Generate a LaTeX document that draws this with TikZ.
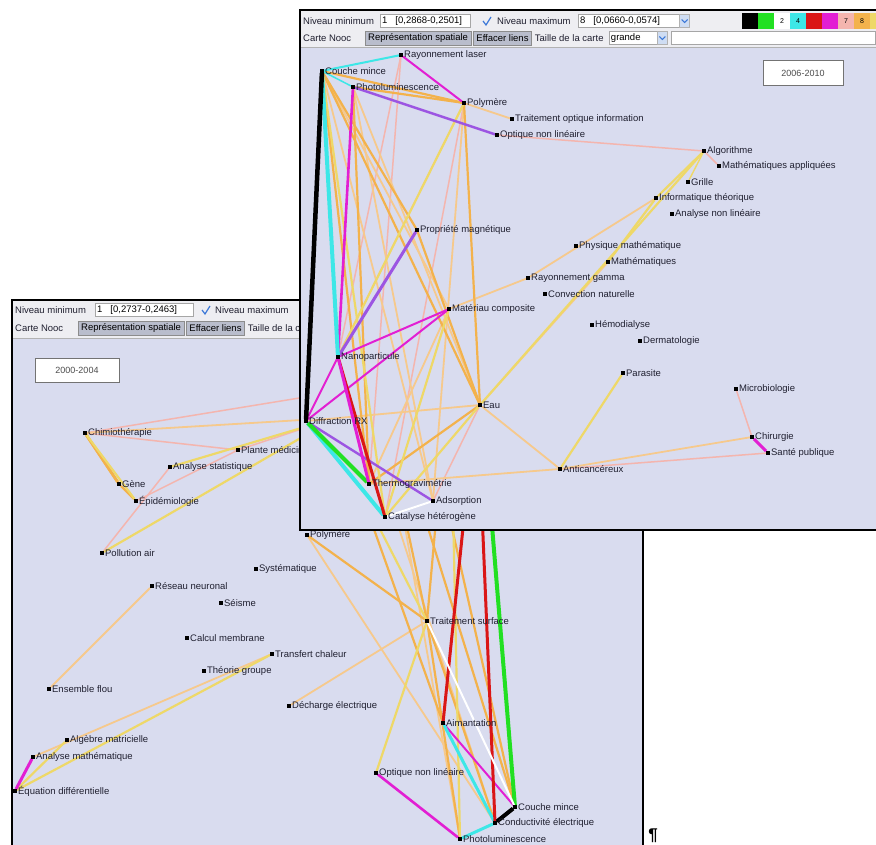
\documentclass[tikz,border=0pt]{standalone}
\usepackage{tikz}
\usepackage{fontspec}
\setmainfont{Liberation Sans}
\usetikzlibrary{positioning}
\definecolor{canvas}{HTML}{D9DCEF}
\definecolor{barbg}{HTML}{EEEEF2}
\definecolor{btnbg}{HTML}{B9BDCC}
\definecolor{dropbg}{HTML}{CFDDF3}
\definecolor{lpink}{HTML}{F4B5AE}
\definecolor{lorange}{HTML}{F6C98C}
\definecolor{dorange}{HTML}{F3B24C}
\definecolor{lyellow}{HTML}{EED868}
\definecolor{lmag}{HTML}{E21FD3}
\definecolor{lpurp}{HTML}{9C55E2}
\definecolor{lcyan}{HTML}{3DE7E7}
\definecolor{lgreen}{HTML}{22E022}
\definecolor{lred}{HTML}{DA1616}
\definecolor{chk}{HTML}{3C78D8}
\definecolor{lbltext}{HTML}{202030}
\newcommand\lblfont{\fontsize{9.5}{11}\selectfont}
\pgfdeclarelayer{lowwin}
\pgfdeclarelayer{lowedge}
\pgfdeclarelayer{lownode}
\pgfdeclarelayer{topwin}
\pgfdeclarelayer{topedge}
\pgfsetlayers{lowwin,lowedge,lownode,topwin,topedge,main}
\begin{document}
\begin{tikzpicture}[x=1pt,y=-1pt,
  pt/.style={fill=black,inner sep=0pt,minimum size=3.5pt},
  lbl/.style={font=\lblfont,text=lbltext,inner sep=1pt},
  tb/.style={anchor=west,font=\lblfont,text=lbltext,inner sep=0pt},
  fld/.style={anchor=west,draw=black!35,fill=white,minimum height=13pt,inner sep=2pt,font=\lblfont,align=left},
  btn/.style={anchor=west,draw=black!45,fill=btnbg,minimum height=14pt,inner xsep=3pt,inner ysep=0pt,font=\lblfont},
  drop/.style={anchor=west,draw=black!30,fill=dropbg,minimum width=10pt,minimum height=13pt,inner sep=0pt},
  sw/.style={minimum width=16pt,minimum height=16pt,inner sep=0pt,font=\fontsize{7}{7}\selectfont},
  yr/.style={draw=black!55,fill=white,font=\fontsize{9}{10}\selectfont,text=black!70},
  frm/.style={black,line width=1.6pt},
  ePk/.style={lpink,line width=1.5pt},
  eLo/.style={lorange,line width=1.8pt},
  eOr/.style={dorange,line width=2.2pt},
  eYe/.style={lyellow,line width=2.2pt},
  eMg/.style={lmag,line width=2pt},
  ePu/.style={lpurp,line width=2.4pt},
  eCy/.style={lcyan,line width=3pt},
  eGr/.style={lgreen,line width=4pt},
  eRd/.style={lred,line width=3pt},
  eBk/.style={black,line width=4pt},
  eWh/.style={white,line width=2pt}]
\useasboundingbox (0,0) rectangle (876,845);

\begin{pgfonlayer}{lowwin}
\fill[canvas] (13,338) rectangle (642,845);
\fill[barbg] (13,300) rectangle (300,338);
\draw[black!30] (13,338) -- (300,338);
\draw[frm] (12,845) -- (12,300) -- (300,300);
\draw[frm] (643,530) -- (643,845);
\node[tb] (lMin) at (15,310) {Niveau minimum};
\node[fld,text width=94pt] (lMinFld) at (95,310) {1\hspace{8pt}[0,2737-0,2463]};
\draw[chk,line width=1.2pt] (202,310) -- (205,314) -- (210,306);
\node[tb] (lMax) at (215,310) {Niveau maximum};
\node[tb] (lCarte) at (15,328) {Carte Nooc};
\node[btn] (lRep) at (78,328) {Représentation spatiale};
\node[btn,right=2pt of lRep] (lEff) {Effacer liens};
\node[tb,right=3pt of lEff] (lTaille) {Taille de la carte};
\node[yr,minimum width=84pt,minimum height=24pt] (lYear) at (77,370) {2000-2004};
\node[font=\bfseries\fontsize{17}{17}\selectfont,inner sep=0pt] (para) at (653,836) {\P};
\end{pgfonlayer}

\begin{pgfonlayer}{lownode}
\node[pt,label={[lbl]right:Chimiothérapie}] (bCt) at (85,433) {};
\node[pt,label={[lbl]right:Plante médicinale}] (bPM) at (238,450) {};
\node[pt,label={[lbl]right:Analyse statistique}] (bAS) at (170,467) {};
\node[pt,label={[lbl]right:Gène}] (bGe) at (119,484) {};
\node[pt,label={[lbl]right:Épidémiologie}] (bEp) at (136,501) {};
\node[pt,label={[lbl]right:Pollution air}] (bPA) at (102,553) {};
\node[pt,label={[lbl]right:Polymère}] (bPo) at (307,535) {};
\node[pt,label={[lbl]right:Systématique}] (bSy) at (256,569) {};
\node[pt,label={[lbl]right:Réseau neuronal}] (bRN) at (152,586) {};
\node[pt,label={[lbl]right:Séisme}] (bSe) at (221,603) {};
\node[pt,label={[lbl]right:Calcul membrane}] (bCa) at (187,638) {};
\node[pt,label={[lbl]right:Transfert chaleur}] (bTC) at (272,654) {};
\node[pt,label={[lbl]right:Théorie groupe}] (bTG) at (204,671) {};
\node[pt,label={[lbl]right:Ensemble flou}] (bEF) at (49,689) {};
\node[pt,label={[lbl]right:Décharge électrique}] (bDE) at (289,706) {};
\node[pt,label={[lbl]right:Traitement surface}] (bTS) at (427,621) {};
\node[pt,label={[lbl]right:Aimantation}] (bAi) at (443,723) {};
\node[pt,label={[lbl]right:Algèbre matricielle}] (bAlM) at (67,740) {};
\node[pt,label={[lbl]right:Analyse mathématique}] (bAM) at (33,757) {};
\node[pt,label={[lbl]right:Équation différentielle}] (bED) at (15,791) {};
\node[pt,label={[lbl]right:Optique non linéaire}] (bONL) at (376,773) {};
\node[pt,label={[lbl]right:Couche mince}] (bCo) at (515,807) {};
\node[pt,label={[lbl]right:Conductivité électrique}] (bCE) at (495,823) {};
\node[pt,label={[lbl]right:Photoluminescence}] (bPL) at (460,839) {};
\end{pgfonlayer}

\begin{pgfonlayer}{lowedge}
\coordinate (hA) at (330,393);
\coordinate (hB) at (335,418);
\coordinate (hC) at (330,421);
\coordinate (hD) at (395,470);
\coordinate (hE) at (360,490);
\coordinate (hF) at (440,475);
\coordinate (hG) at (452,460);
\coordinate (hH) at (410,470);
\coordinate (hI) at (380,470);
\coordinate (hX1) at (472,440);
\coordinate (hX2) at (479,440);
\coordinate (hX3) at (485,440);
\draw[ePk] (bCt) -- (hA);
\draw[ePk] (bCt) -- (bPM);
\draw[ePk] (bEp) -- (bPM);
\draw[ePk] (bAS) -- (bPA);
\draw[ePk] (bPM) -- (hB);
\draw[eLo] (bCt) -- (hB);
\draw[eLo] (bRN) -- (bEF);
\draw[eLo] (bTC) -- (bAM);
\draw[eLo] (bDE) -- (bTS);
\draw[eLo] (hD) -- (bPL);
\draw[eLo] (bPo) -- (bCE);
\draw[eLo] (hI) -- (bCE);
\draw[eOr] (bCt) -- (bGe);
\draw[eOr,line width=3pt] (bCt) -- (bGe);
\draw[eOr] (bGe) -- (bEp);
\draw[eOr] (bPo) -- (bTS);
\draw[eOr] (hD) -- (bTS);
\draw[eOr] (hF) -- (bTS);
\draw[eOr] (bTS) -- (bCE);
\draw[eOr] (bTS) -- (bPL);
\draw[eOr] (hF) -- (bCo);
\draw[eOr] (hH) -- (bCo);
\draw[eOr] (hE) -- (bAi);
\draw[eYe] (bCt) -- (bEp);
\draw[eYe] (bPA) -- (hC);
\draw[eYe] (bAS) -- (hB);
\draw[eYe] (bTC) -- (bED);
\draw[eYe] (bAlM) -- (bED);
\draw[eYe] (hE) -- (bTS);
\draw[eYe] (bTS) -- (bONL);
\draw[eYe] (hG) -- (bPL);
\draw[eMg,line width=3pt] (bAM) -- (bED);
\draw[eMg] (bAi) -- (bCo);
\draw[eMg,line width=2.6pt] (bONL) -- (bPL);
\draw[eCy] (bAi) -- (bCE);
\draw[eCy] (bCE) -- (bPL);
\draw[eGr] (hX3) -- (bCo);
\draw[eRd] (hX1) -- (bAi);
\draw[eRd] (hX2) -- (bCE);
\draw[eWh] (bTS) -- (bCo);
\draw[eBk] (bCo) -- (bCE);
\end{pgfonlayer}

\begin{pgfonlayer}{topwin}
\fill[canvas] (300,47) rectangle (876,530);
\fill[barbg] (300,10) rectangle (876,47);
\draw[black!30] (300,47) -- (876,47);
\node[tb] (tMin) at (303,21) {Niveau minimum};
\node[fld,text width=86pt] (tMinFld) at (380,21) {1\hspace{8pt}[0,2868-0,2501]};
\draw[chk,line width=1.2pt] (483,21) -- (486,25) -- (491,17);
\node[tb] (tMax) at (497,21) {Niveau maximum};
\node[fld,text width=97pt] (tMaxFld) at (578,21) {8\hspace{8pt}[0,0660-0,0574]};
\node[drop,right=0pt of tMaxFld] (tMaxDrop) {};
\draw[chk,line width=1pt] (tMaxDrop.center) ++(-3,-1.5) -- ++(3,3) -- ++(3,-3);
\foreach \c/\t [count=\i from 0] in {black/,lgreen/,white/2,lcyan/4,lred/,lmag/,lpink/7,dorange/8,lyellow/}
  \node[sw,fill=\c] (sw\i) at ({750+16*\i},21) {\t};
\node[tb] (tCarte) at (303,38) {Carte Nooc};
\node[btn] (tRep) at (365,38) {Représentation spatiale};
\node[btn,right=2pt of tRep] (tEff) {Effacer liens};
\node[tb,right=3pt of tEff] (tTaille) {Taille de la carte};
\node[fld,right=5pt of tTaille,text width=44pt] (tGrande) {grande};
\node[drop,right=0pt of tGrande] (tGdrop) {};
\draw[chk,line width=1pt] (tGdrop.center) ++(-3,-1.5) -- ++(3,3) -- ++(3,-3);
\node[fld,right=3pt of tGdrop,text width=200pt] (tBlank) {};
\node[yr,minimum width=80pt,minimum height=25pt] (tYear) at (803,73) {2006-2010};
\end{pgfonlayer}

\node[pt,label={[lbl]right:Rayonnement laser}] (tRL) at (401,55) {};
\node[pt,label={[lbl]right:Couche mince}] (tCM) at (322,71) {};
\node[pt,label={[lbl]right:Photoluminescence}] (tPL) at (353,87) {};
\node[pt,label={[lbl]right:Polymère}] (tPo) at (464,103) {};
\node[pt,label={[lbl]right:Traitement optique information}] (tTOI) at (512,119) {};
\node[pt,label={[lbl]right:Optique non linéaire}] (tONL) at (497,135) {};
\node[pt,label={[lbl]right:Algorithme}] (tAl) at (704,151) {};
\node[pt,label={[lbl]right:Mathématiques appliquées}] (tMA) at (719,166) {};
\node[pt,label={[lbl]right:Grille}] (tGr) at (688,182) {};
\node[pt,label={[lbl]right:Informatique théorique}] (tIT) at (656,198) {};
\node[pt,label={[lbl]right:Analyse non linéaire}] (tANL) at (672,214) {};
\node[pt,label={[lbl]right:Propriété magnétique}] (tPM) at (417,230) {};
\node[pt,label={[lbl]right:Physique mathématique}] (tPhM) at (576,246) {};
\node[pt,label={[lbl]right:Mathématiques}] (tMa) at (608,262) {};
\node[pt,label={[lbl]right:Rayonnement gamma}] (tRG) at (528,278) {};
\node[pt,label={[lbl]right:Convection naturelle}] (tCN) at (545,294) {};
\node[pt,label={[lbl]right:Matériau composite}] (tMC) at (449,309) {};
\node[pt,label={[lbl]right:Hémodialyse}] (tHe) at (592,325) {};
\node[pt,label={[lbl]right:Dermatologie}] (tDe) at (640,341) {};
\node[pt,label={[lbl]right:Nanoparticule}] (tNa) at (338,357) {};
\node[pt,label={[lbl]right:Parasite}] (tPa) at (623,373) {};
\node[pt,label={[lbl]right:Microbiologie}] (tMi) at (736,389) {};
\node[pt,label={[lbl]right:Eau}] (tEa) at (480,405) {};
\node[pt,label={[lbl]right:Diffraction RX}] (tDR) at (306,421) {};
\node[pt,label={[lbl]right:Chirurgie}] (tCh) at (752,437) {};
\node[pt,label={[lbl]right:Santé publique}] (tSP) at (768,453) {};
\node[pt,label={[lbl]right:Anticancéreux}] (tAC) at (560,469) {};
\node[pt,label={[lbl]right:Thermogravimétrie}] (tTG) at (369,484) {};
\node[pt,label={[lbl]right:Adsorption}] (tAd) at (433,501) {};
\node[pt,label={[lbl]right:Catalyse hétérogène}] (tCH) at (385,517) {};

\begin{pgfonlayer}{topedge}
\draw[ePk] (tRL) -- (tNa);
\draw[ePk] (tRL) -- (tTG);
\draw[ePk] (tPo) -- (tDR);
\draw[ePk] (tPo) -- (tCH);
\draw[ePk] (tONL) -- (tAl);
\draw[ePk] (tAl) -- (tMA);
\draw[ePk] (tEa) -- (tAd);
\draw[ePk] (tAC) -- (tSP);
\draw[ePk] (tCh) -- (tMi);
\draw[eLo] (tCM) -- (tMC);
\draw[eLo] (tCM) -- (tAd);
\draw[eLo] (tPL) -- (tEa);
\draw[eLo] (tPL) -- (tAd);
\draw[eLo] (tPo) -- (tTOI);
\draw[eLo] (tPo) -- (tAd);
\draw[eLo] (tIT) -- (tRG);
\draw[eLo] (tRG) -- (tMC);
\draw[eLo] (tMa) -- (tEa);
\draw[eLo] (tMC) -- (tTG);
\draw[eLo] (tDR) -- (tEa);
\draw[eLo] (tEa) -- (tAC);
\draw[eLo] (tTG) -- (tAC);
\draw[eLo] (tAC) -- (tCh);
\draw[eOr] (tCM) -- (tPo);
\draw[eOr] (tCM) -- (tEa);
\draw[eOr] (tCM) -- (tTG);
\draw[eOr] (tPL) -- (tPo);
\draw[eOr] (tPL) -- (tTG);
\draw[eOr] (tPo) -- (tEa);
\draw[eOr] (tPM) -- (tCM);
\draw[eOr] (tPM) -- (tEa);
\draw[eOr] (tEa) -- (tTG);
\draw[eYe] (tCM) -- (tCH);
\draw[eYe] (tAl) -- (tIT);
\draw[eYe,line width=1.4pt] (tAl) -- (tGr);
\draw[eYe] (tAl) -- (tEa);
\draw[eYe] (tIT) -- (tMa);
\draw[eYe] (tMC) -- (tCH);
\draw[eYe] (tEa) -- (tCH);
\draw[eYe] (tAC) -- (tPa);
\draw[eYe] (tPo) -- (tNa);
\draw[eMg] (tRL) -- (tPo);
\draw[eMg,line width=2.6pt] (tPL) -- (tNa);
\draw[eMg] (tMC) -- (tNa);
\draw[eMg] (tMC) -- (tDR);
\draw[eMg] (tNa) -- (tDR);
\draw[eMg,line width=3pt] (tCh) -- (tSP);
\draw[ePu] (tPL) -- (tONL);
\draw[ePu,line width=3pt] (tPM) -- (tNa);
\draw[ePu] (tDR) -- (tAd);
\draw[eCy,line width=2pt] (tCM) -- (tRL);
\draw[eCy,line width=1.5pt] (tCM) -- (tPL);
\draw[eCy,line width=4pt] (tCM) -- (tNa);
\draw[eCy,line width=4pt] (tDR) -- (tCH);
\draw[eGr] (tDR) -- (tTG);
\draw[eRd] (tNa) -- (tCH);
\draw[eMg,line width=3pt] (tNa) -- (tTG);
\draw[eBk,line width=4.5pt] (tCM) -- (tDR);
\draw[eWh] (tCH) -- (tAd);
\end{pgfonlayer}

\begin{pgfonlayer}{topedge}
\draw[frm] (300,530) -- (300,10) -- (877,10);
\draw[frm,line width=2.4pt] (299,530) -- (877,530);
\end{pgfonlayer}
\end{tikzpicture}
\end{document}
